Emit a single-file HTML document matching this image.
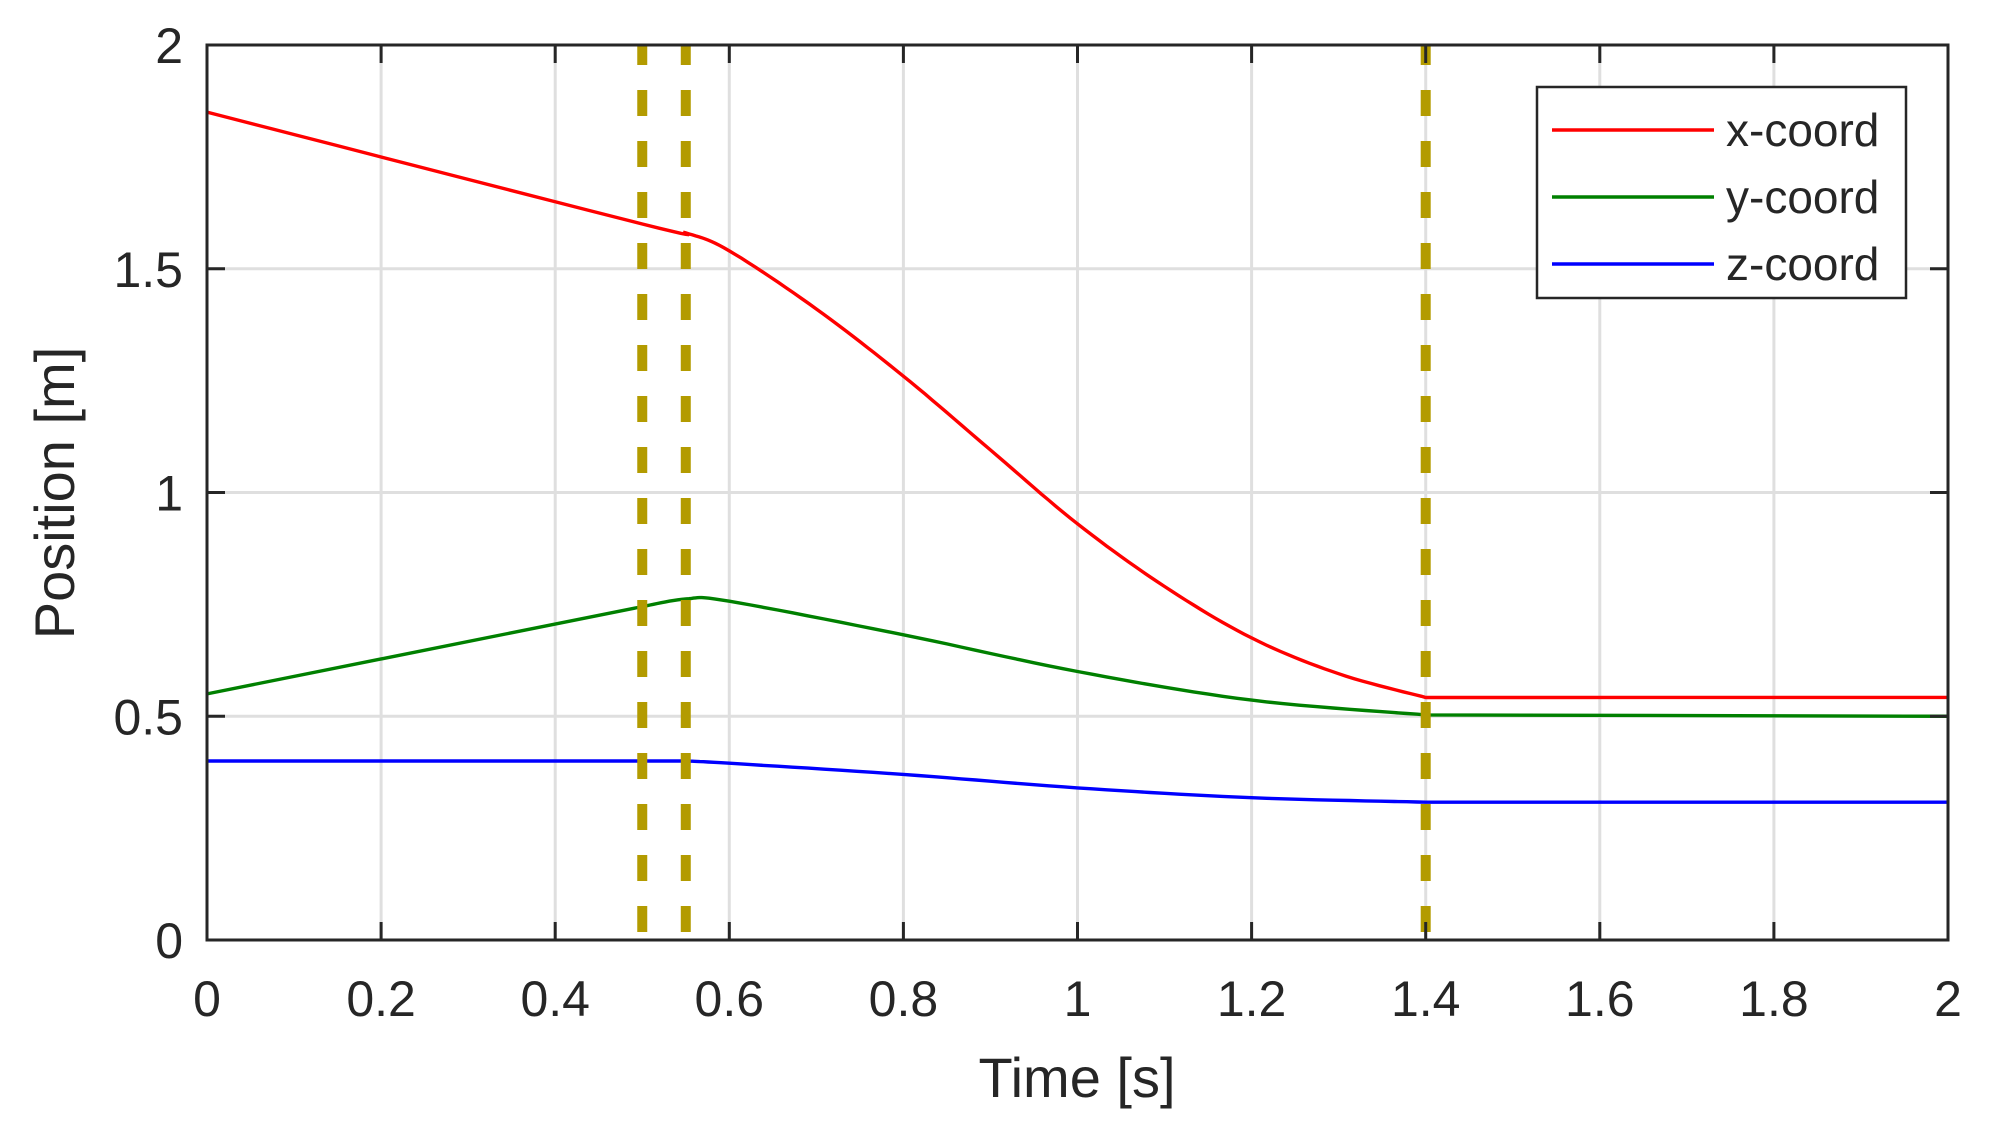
<!DOCTYPE html>
<html><head><meta charset="utf-8"><style>
html,body{margin:0;padding:0;background:#fff;}
svg{display:block;font-family:"Liberation Sans",Arial,sans-serif;}
</style></head><body>
<svg id="s" width="1998" height="1129" viewBox="0 0 1998 1129" xmlns="http://www.w3.org/2000/svg">
<rect width="1998" height="1129" fill="#fff"/>
<g id="grid" stroke="#dfdfdf" stroke-width="3"></g>
<g id="data" fill="none" stroke-width="3.4"></g>
<g id="ticks" stroke="#262626" stroke-width="3"></g>
<rect x="207" y="45" width="1741" height="895" fill="none" stroke="#262626" stroke-width="3"/>
<g id="labels" fill="#262626" font-size="50"></g>
<text x="1077" y="1097" font-size="56" fill="#262626" text-anchor="middle">Time [s]</text>
<text transform="translate(74,493) rotate(-90)" font-size="56" fill="#262626" text-anchor="middle">Position [m]</text>
<rect x="1537" y="87" width="369" height="211" fill="#fff" stroke="#262626" stroke-width="2.5"/>
<line x1="1552" y1="130" x2="1714" y2="130" stroke="#ff0000" stroke-width="3.4"/>
<line x1="1552" y1="197" x2="1714" y2="197" stroke="#008000" stroke-width="3.4"/>
<line x1="1552" y1="264" x2="1714" y2="264" stroke="#0000ff" stroke-width="3.4"/>
<g fill="#262626" font-size="46">
<text x="1726" y="146">x-coord</text>
<text x="1726" y="213">y-coord</text>
<text x="1726" y="280">z-coord</text>
</g>
</svg>
<script>
var L=207,R=1948,T=45,B=940;
function X(t){return L+(R-L)*t/2;}
function Y(v){return B-(B-T)*v/2;}
var NS="http://www.w3.org/2000/svg";
function el(p,n,a,txt){var e=document.createElementNS(NS,n);for(var k in a)e.setAttribute(k,a[k]);if(txt!==undefined)e.textContent=txt;document.getElementById(p).appendChild(e);return e;}
for(var i=1;i<10;i++){var x=X(i*0.2);el("grid","line",{x1:x,y1:T,x2:x,y2:B});}
for(var j=1;j<4;j++){var y=Y(j*0.5);el("grid","line",{x1:L,y1:y,x2:R,y2:y});}
for(var i=0;i<=10;i++){var x=X(i*0.2);el("ticks","line",{x1:x,y1:B,x2:x,y2:B-18});el("ticks","line",{x1:x,y1:T,x2:x,y2:T+18});
 var lab=(i==0?"0":i==5?"1":i==10?"2":(i*0.2).toFixed(1));el("labels","text",{x:x,y:1016,"text-anchor":"middle"},lab);}
for(var j=0;j<=4;j++){var y=Y(j*0.5);el("ticks","line",{x1:L,y1:y,x2:L+18,y2:y});el("ticks","line",{x1:R,y1:y,x2:R-18,y2:y});
 var lab=["0","0.5","1","1.5","2"][j];el("labels","text",{x:183,y:y+18,"text-anchor":"end"},lab);}
function cr(pts){var d="M"+X(pts[0][0])+","+Y(pts[0][1]);
 for(var i=0;i<pts.length-1;i++){var p0=pts[Math.max(i-1,0)],p1=pts[i],p2=pts[i+1],p3=pts[Math.min(i+2,pts.length-1)];
  for(var k=1;k<=12;k++){var s=k/12,s2=s*s,s3=s2*s;
   var f=function(a){return 0.5*((2*p1[a])+(-p0[a]+p2[a])*s+(2*p0[a]-5*p1[a]+4*p2[a]-p3[a])*s2+(-p0[a]+3*p1[a]-3*p2[a]+p3[a])*s3);};
   d+=" L"+X(f(0)).toFixed(1)+","+Y(f(1)).toFixed(1);}}
 return d;}
var xs=[[0,1.85],[0.5,1.6],[0.55,1.58],[0.6,1.54],[0.7,1.41],[0.8,1.26],[0.9,1.095],[1.0,0.93],[1.1,0.79],[1.2,0.675],[1.3,0.595],[1.4,0.542]];
var ys=[[0.5,0.745],[0.55,0.762],[0.6,0.757],[0.8,0.682],[1.0,0.6],[1.2,0.536],[1.4,0.503]];
var zs=[[0.55,0.4],[0.6,0.395],[0.8,0.37],[1.0,0.34],[1.2,0.318],[1.4,0.308]];
el("data","path",{d:cr(xs)+" L"+X(2)+","+Y(0.542),stroke:"#ff0000"});
el("data","path",{d:"M"+X(0)+","+Y(0.55)+" "+cr(ys).replace("M","L")+" L"+X(2)+","+Y(0.5),stroke:"#008000"});
el("data","path",{d:"M"+X(0)+","+Y(0.4)+" "+cr(zs).replace("M","L")+" L"+X(2)+","+Y(0.308),stroke:"#0000ff"});
[0.5,0.55,1.4].forEach(function(t){el("data","line",{x1:X(t),y1:T,x2:X(t),y2:B,stroke:"#b39b00","stroke-width":10,"stroke-dasharray":"26,25","stroke-dashoffset":"6"});});
</script>
</body></html>
